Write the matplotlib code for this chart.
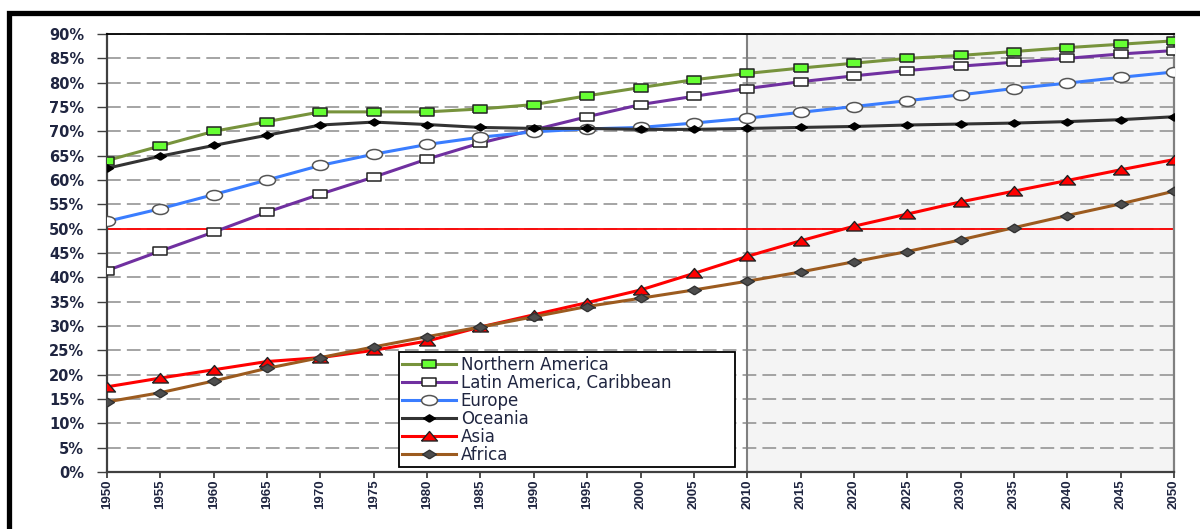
import numpy as np
import matplotlib.pyplot as plt
from matplotlib.patches import Rectangle
from matplotlib.path import Path
from matplotlib.transforms import Affine2D
from matplotlib.ticker import FuncFormatter

plt.rcParams['font.family'] = ['Liberation Sans', 'DejaVu Sans']

years = list(range(1950, 2051, 5))

northern_america = [64.0, 67.0, 70.0, 72.0, 74.0, 74.0, 74.0, 74.6, 75.5, 77.3, 79.0,
                    80.6, 81.9, 83.0, 84.0, 85.0, 85.6, 86.4, 87.2, 87.9, 88.6]
latin_america = [41.4, 45.4, 49.3, 53.4, 57.1, 60.6, 64.3, 67.6, 70.3, 73.0, 75.5,
                 77.2, 78.8, 80.2, 81.4, 82.5, 83.4, 84.2, 85.0, 85.9, 86.6]
europe = [51.5, 54.1, 57.0, 60.0, 63.0, 65.3, 67.3, 68.8, 69.9, 70.5, 70.8,
          71.7, 72.7, 73.9, 75.1, 76.3, 77.5, 78.8, 79.9, 81.1, 82.2]
oceania = [62.4, 64.9, 67.1, 69.2, 71.3, 71.9, 71.4, 70.8, 70.6, 70.6, 70.4,
           70.4, 70.6, 70.8, 71.0, 71.3, 71.5, 71.7, 72.0, 72.4, 73.0]
asia = [17.5, 19.3, 21.0, 22.7, 23.5, 25.0, 26.9, 29.8, 32.3, 34.8, 37.4,
        40.8, 44.3, 47.5, 50.5, 53.0, 55.5, 57.7, 59.9, 62.1, 64.2]
africa = [14.4, 16.3, 18.7, 21.3, 23.5, 25.7, 27.8, 29.8, 31.9, 34.0, 35.7,
          37.4, 39.2, 41.1, 43.2, 45.3, 47.7, 50.2, 52.7, 55.1, 57.7]

threshold = 50
projection_start = 2010

# the original chart is stretched sideways, so the markers are too
stretch = 1.6
sq_mark = [(-stretch / 2, -0.5), (stretch / 2, -0.5), (stretch / 2, 0.5), (-stretch / 2, 0.5), (-stretch / 2, -0.5)]
tri_mark = [(-stretch / 2, -0.45), (stretch / 2, -0.45), (0, 0.5), (-stretch / 2, -0.45)]
dia_mark = [(0, -0.5), (stretch / 2, 0), (0, 0.5), (-stretch / 2, 0), (0, -0.5)]
ell_mark = Affine2D().scale(stretch, 1).transform_path(Path.unit_circle())

fig = plt.figure(figsize=(12, 5.29), dpi=100)
ax = fig.add_axes([0.0892, 0.1078, 0.8891, 0.8279])

# projection region
ax.axvspan(projection_start, years[-1], color='#f4f4f4', zorder=0)
ax.axvline(projection_start, color='#808080', lw=1.5, zorder=1)
ax.axhline(threshold, color='red', lw=1.3, zorder=2)

ax.set_axisbelow(True)
ax.yaxis.grid(True, color='#8c8c8c', linestyle=(0, (9, 4)), lw=1.1)

ax.plot(years, northern_america, color='#77933c', lw=2.2, marker=sq_mark, ms=9.5,
        mfc='#66ff33', mec='#222222', mew=1.1, label='Northern America', zorder=5)
ax.plot(years, latin_america, color='#7030a0', lw=2.2, marker=sq_mark, ms=9.5,
        mfc='white', mec='#222222', mew=1.1, label='Latin America, Caribbean', zorder=5)
ax.plot(years, europe, color='#3a7dff', lw=2.2, marker=ell_mark, ms=11.5,
        mfc='white', mec='#555555', mew=1.1, label='Europe', zorder=5)
ax.plot(years, oceania, color='#333333', lw=2.2, marker=dia_mark, ms=8.5,
        mfc='black', mec='black', mew=1, label='Oceania', zorder=5)
ax.plot(years, asia, color='red', lw=2.2, marker=tri_mark, ms=11.5,
        mfc='red', mec='#222222', mew=1, label='Asia', zorder=5)
ax.plot(years, africa, color='#9c5b1f', lw=2.2, marker=dia_mark, ms=10,
        mfc='#4d4d4d', mec='#333333', mew=1, label='Africa', zorder=5)

tick_color = '#1f2540'
ax.set_xlim(years[0], years[-1])
ax.set_ylim(0, 90)
ax.set_xticks(years)
ax.set_yticks(np.arange(0, 91, 5))
ax.yaxis.set_major_formatter(FuncFormatter(lambda v, p: '{:.0f}%'.format(v)))

ax.tick_params(axis='x', direction='out', length=4, width=1.3, color='#404040',
               labelsize=9.5, labelcolor=tick_color, labelrotation=90, pad=1.5)
ax.tick_params(axis='y', direction='out', length=7.5, width=1.0, color='#404040',
               labelsize=10.5, labelcolor=tick_color, pad=9)
for lab in ax.get_xticklabels():
    lab.set_fontweight('bold')
for lab in ax.get_yticklabels():
    lab.set_fontweight('bold')
    lab.set_fontfamily(['DejaVu Sans'])

ax.spines['top'].set_color('black')
ax.spines['top'].set_linewidth(1.3)
ax.spines['left'].set_color('#404040')
ax.spines['left'].set_linewidth(1.6)
ax.spines['bottom'].set_color('#404040')
ax.spines['bottom'].set_linewidth(1.6)
ax.spines['right'].set_color('#808080')
ax.spines['right'].set_linewidth(1.6)

leg = ax.legend(loc='lower left', bbox_to_anchor=(0.2737, 0.0114, 0.315, 0.258),
                mode='expand', borderaxespad=0,
                prop={'family': 'DejaVu Sans', 'size': 12},
                handlelength=3.2, handletextpad=0.3, labelspacing=0.0,
                borderpad=0.2, fancybox=False, framealpha=1, edgecolor='black')
leg.get_frame().set_linewidth(1.3)
leg.set_zorder(10)
for t in leg.get_texts():
    t.set_color(tick_color)

# thick outer frame
fig.patches.append(Rectangle((8.5 / 1200, -0.1), 1.2, 1.1 - 13 / 529,
                             transform=fig.transFigure, fill=False,
                             lw=3.8, edgecolor='black', clip_on=False))

fig.savefig('out.png', dpi=100)
